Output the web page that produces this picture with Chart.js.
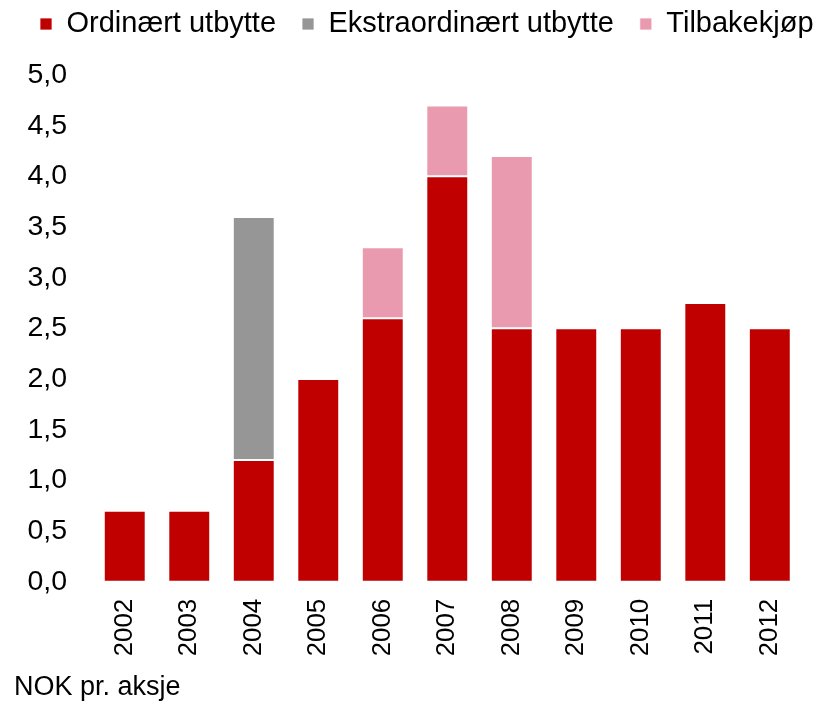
<!DOCTYPE html>
<html>
<head>
<meta charset="utf-8">
<script src="https://cdn.jsdelivr.net/npm/chart.js@4/dist/chart.umd.min.js"></script>
<style>
    html, body { margin: 0; padding: 0; background: #fff; }
    #wrap { width: 818px; height: 704px; }
</style>
</head>
<body>
<div id="wrap"><canvas id="chart"></canvas></div>
<script>
const years = ['2002', '2003', '2004', '2005', '2006', '2007', '2008', '2009', '2010', '2011', '2012'];
const ordinary = [0.7, 0.7, 1.2, 2.0, 2.6, 4.0, 2.5, 2.5, 2.5, 2.75, 2.5];
const extraordinary = [null, null, 2.4, null, null, null, null, null, null, null, null];
const buyback = [null, null, null, null, 0.7, 0.7, 1.7, null, null, null, null];

const FONT = "'Liberation Sans', Arial, sans-serif";
const LEGEND_GAP = 26.5;

// keep the legend on one line and leave extra space under it
const legendGap = {
    id: 'legendGap',
    beforeLayout(chart) {
        const lg = chart.legend;
        if (lg && !lg._gapPatched) {
            const fit = lg.fit;
            lg.fit = function () {
                this.maxWidth += 60;
                fit.call(this);
                this.height += LEGEND_GAP;
            };
            const draw = lg.draw;
            lg.draw = function () {
                const r = this.right;
                this.right += 60;
                draw.call(this);
                this.right = r;
            };
            lg._gapPatched = true;
        }
    }
};

function barSet(label, data, color) {
    return {
        label: label,
        data: data,
        backgroundColor: color,
        borderColor: 'rgba(255,255,255,0.75)',
        borderWidth: 1,
        borderSkipped: false,
        categoryPercentage: 1,
        barPercentage: 0.65
    };
}

new Chart(document.getElementById('chart').getContext('2d'), {
    type: 'bar',
    data: {
        labels: years,
        datasets: [
            barSet('Ordinært utbytte', ordinary, '#c00000'),
            barSet('Ekstraordinært utbytte', extraordinary, '#969696'),
            barSet('Tilbakekjøp', buyback, '#ea9aae')
        ]
    },
    plugins: [legendGap],
    options: {
        responsive: true,
        maintainAspectRatio: false,
        animation: false,
        layout: {
            padding: { top: -16.5, left: 14, right: 0, bottom: 0 }
        },
        plugins: {
            legend: {
                position: 'top',
                align: 'start',
                labels: {
                    boxWidth: 12,
                    boxHeight: 12,
                    padding: 26,
                    color: '#000',
                    font: { family: FONT, size: 29 }
                }
            },
            title: {
                display: true,
                text: 'NOK pr. aksje',
                position: 'bottom',
                align: 'start',
                color: '#000',
                font: { family: FONT, size: 27, weight: 'normal' },
                padding: { top: 16.5, bottom: 0.4 }
            },
            tooltip: { enabled: false }
        },
        scales: {
            x: {
                stacked: true,
                grid: { display: false, drawTicks: false },
                border: { display: false },
                ticks: {
                    color: '#000',
                    font: { family: FONT, size: 26 },
                    minRotation: 90,
                    maxRotation: 90,
                    padding: 17
                },
                afterFit(axis) {
                    axis.height = 73;
                }
            },
            y: {
                stacked: true,
                min: 0,
                max: 5,
                grid: { display: false, drawTicks: false },
                border: { display: false },
                ticks: {
                    stepSize: 0.5,
                    color: '#000',
                    font: { family: FONT, size: 28.5 },
                    padding: 25.5,
                    callback: (v) => v.toFixed(1).replace('.', ',')
                },
                afterFit(axis) {
                    axis.width = 78.5;
                }
            }
        }
    }
});
</script>
</body>
</html>
